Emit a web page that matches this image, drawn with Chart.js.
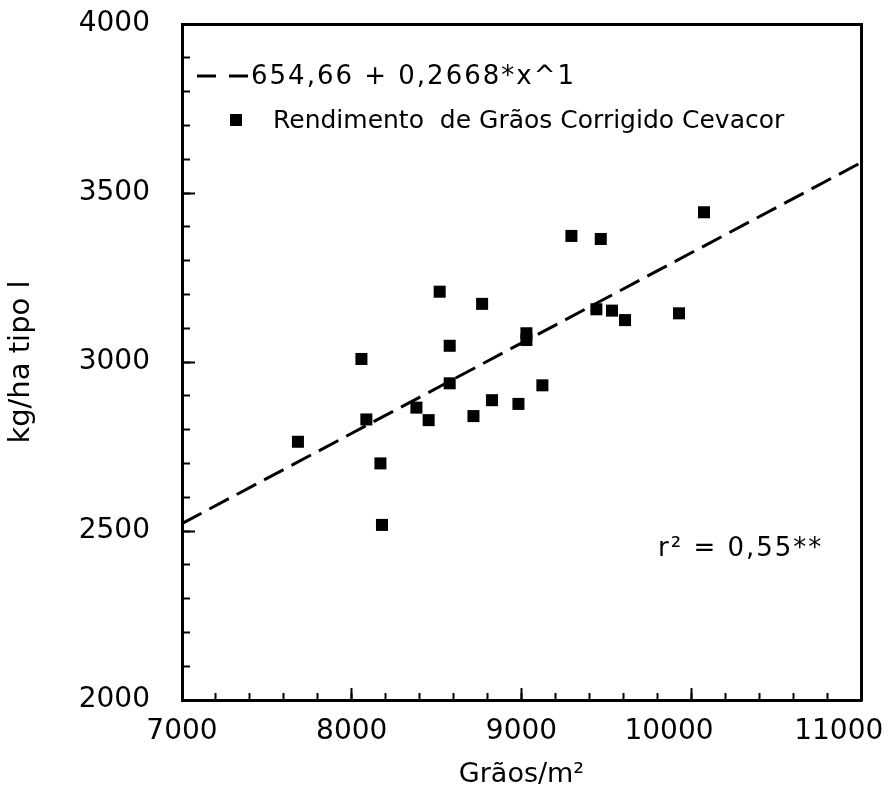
<!DOCTYPE html>
<html>
<head>
<meta charset="utf-8">
<script src="https://cdn.jsdelivr.net/npm/chart.js@4.4.1/dist/chart.umd.min.js"></script>
<style>
  body { margin: 0; background: #fff; }
  canvas { display: block; }
</style>
</head>
<body>
<canvas id="graos" width="893" height="801"></canvas>
<script>
// pontos
const graosM2 = [7683, 8057, 8086, 8169, 8178, 8381, 8453, 8518, 8577, 8577, 8717, 8768,
                 8826, 8982, 9029, 9029, 9123, 9294, 9441, 9467, 9533, 9610, 9928, 10075];
const rendimento = [2764, 3009, 2830, 2700, 2518, 2865, 2828, 3208, 3048, 2937, 2840, 3172,
                    2887, 2876, 3085, 3065, 2931, 3373, 3156, 3364, 3152, 3124, 3144, 3443];
// reta ajustada (extremos)
const retaX = [7000, 11000];
const retaY = [2522, 3590];

const xTicks = [7000, 8000, 9000, 10000, 11000];
const yTicks = [2000, 2500, 3000, 3500, 4000];

const legendaReta = "654,66 + 0,2668*x^1";
const legendaPontos = "Rendimento  de Grãos Corrigido Cevacor";
const textoR2 = "r² = 0,55**";

const FONT = "DejaVu Sans";
Chart.defaults.font.family = FONT;
Chart.defaults.color = "#000";

// legenda e r2 dentro do gráfico
const legendaPlugin = {
  id: "legenda",
  afterDraw(chart) {
    const c = chart.ctx;
    c.save();
    c.strokeStyle = "#000";
    c.lineWidth = 3;
    c.setLineDash([19, 13]);
    c.beginPath();
    c.moveTo(197, 76);
    c.lineTo(248, 76);
    c.stroke();
    c.setLineDash([]);
    c.fillStyle = "#000";
    c.textBaseline = "middle";
    c.textAlign = "left";
    c.font = "26px '" + FONT + "'";
    c.letterSpacing = "2px";
    c.fillText(legendaReta, 251, 77);
    c.fillText(textoR2, 658, 549);
    c.letterSpacing = "0px";
    c.font = "25px '" + FONT + "'";
    c.fillRect(230, 114, 12, 12);
    c.fillText(legendaPontos, 273, 121);
    c.restore();
  }
};

const ctxGraos = document.getElementById("graos");
new Chart(ctxGraos, {
  type: "scatter",
  data: {
    datasets: [
      {
        label: "Rendimento",
        data: graosM2.map((x, i) => ({ x: x, y: rendimento[i] })),
        backgroundColor: "#000",
        borderColor: "#000",
        pointStyle: "rect",
        pointRadius: 8.5,
        borderWidth: 0,
        order: 0,
      },
      {
        type: "line",
        label: "Reta",
        data: retaX.map((x, i) => ({ x: x, y: retaY[i] })),
        borderColor: "#000",
        borderWidth: 3,
        borderDash: [22, 9],
        pointRadius: 0,
        fill: false,
        order: 1,
      },
    ],
  },
  options: {
    responsive: false,
    animation: false,
    devicePixelRatio: 1,
    layout: { padding: { top: 24, right: 32, left: 0, bottom: 0 } },
    plugins: { legend: { display: false }, tooltip: { enabled: false } },
    scales: {
      x: {
        type: "linear",
        min: 7000,
        max: 11000,
        afterBuildTicks: (s) => { s.ticks = xTicks.map((v) => ({ value: v })); },
        afterFit: (s) => { s.height = 101; s.paddingLeft = 0; s.paddingRight = 0; },
        grid: { drawOnChartArea: false, tickLength: -12, tickWidth: 2, color: "#000" },
        border: { color: "#000", width: 3 },
        ticks: {
          padding: 27, maxRotation: 0, font: { size: 28 },
          callback: (v) => v >= 10000 ? v + "\u00a0\u00a0\u00a0\u00a0\u00a0" : String(v),
        },
        title: { display: true, text: "Grãos/m²", font: { size: 27 }, padding: { top: 0, bottom: 10 } },
      },
      y: {
        type: "linear",
        min: 2000,
        max: 4000,
        afterBuildTicks: (s) => { s.ticks = yTicks.map((v) => ({ value: v })); },
        afterFit: (s) => { s.width = 182; s.paddingTop = 0; s.paddingBottom = 0; },
        grid: { drawOnChartArea: false, tickLength: -13, tickWidth: 2, color: "#000" },
        border: { color: "#000", width: 3 },
        ticks: { padding: 45, font: { size: 28 }, callback: (v) => String(v) },
        title: { display: true, text: "kg/ha tipo l", font: { size: 29 }, padding: { top: 4, bottom: 0 } },
      },
      // marcas menores
      xMinor: {
        type: "linear",
        position: { y: 2000 },
        min: 7000,
        max: 11000,
        ticks: { display: false, stepSize: 200 },
        grid: { drawOnChartArea: false, tickLength: -7, tickWidth: 2, color: "#000" },
        border: { display: false },
      },
      yMinor: {
        type: "linear",
        position: { x: 7000 },
        min: 2000,
        max: 4000,
        ticks: { display: false, stepSize: 100 },
        grid: { drawOnChartArea: false, tickLength: -8, tickWidth: 2, color: "#000" },
        border: { display: false },
      },
      // moldura superior e direita
      xTop: {
        type: "linear",
        position: { y: 4000 },
        min: 7000,
        max: 11000,
        ticks: { display: false },
        grid: { drawOnChartArea: false, drawTicks: false },
        border: { color: "#000", width: 3 },
      },
      yRight: {
        type: "linear",
        position: { x: 11000 },
        min: 2000,
        max: 4000,
        ticks: { display: false },
        grid: { drawOnChartArea: false, drawTicks: false },
        border: { color: "#000", width: 3 },
      },
    },
  },
  plugins: [legendaPlugin],
});
</script>
</body>
</html>
